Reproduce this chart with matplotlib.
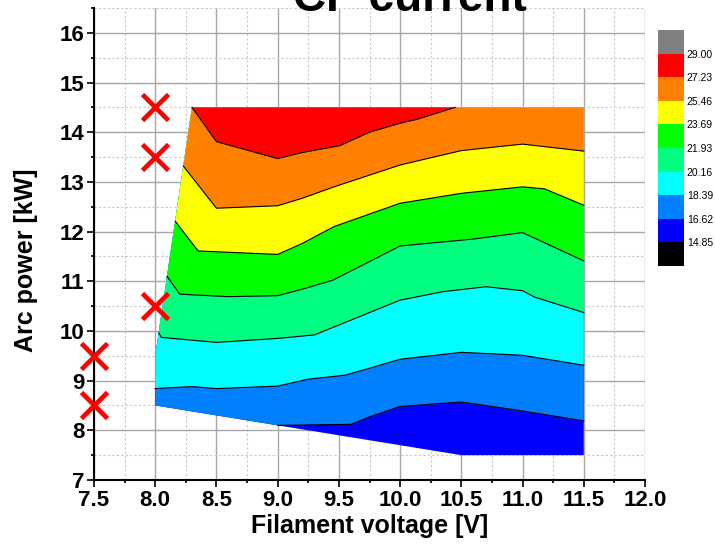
import matplotlib
matplotlib.use('Agg')
import matplotlib.pyplot as plt
from matplotlib.patches import Polygon
from matplotlib.ticker import MultipleLocator

plt.rcParams['font.family'] = ['Liberation Sans', 'DejaVu Sans']

# ---------------- data ----------------
title = 'CP current'
xlabel = 'Filament voltage [V]'
ylabel = 'Arc power [kW]'

levels = [14.85, 16.62, 18.39, 20.16, 21.93, 23.69, 25.46, 27.23, 29.00]
level_labels = ['14.85', '16.62', '18.39', '20.16', '21.93', '23.69', '25.46', '27.23', '29.00']
band_colors = ['#000000', '#0000FF', '#0080FF', '#00FFFF', '#00FF80',
               '#00FF00', '#FFFF00', '#FF8000', '#FF0000', '#808080']

# measured domain outline (filament voltage, arc power)
domain_x = [8.0, 10.5, 11.5, 11.5, 8.3, 8.0]
domain_y = [8.5, 7.5, 7.5, 14.5, 14.5, 9.5]

# contour boundaries
c1662_x = [9.0, 9.6, 9.75, 10.0, 10.5, 11.0, 11.5]
c1662_y = [8.10, 8.12, 8.27, 8.48, 8.57, 8.39, 8.19]

c1839_x = [8.0, 8.3, 8.5, 9.0, 9.25, 9.55, 9.75, 10.0, 10.5, 11.0, 11.5]
c1839_y = [8.84, 8.88, 8.84, 8.89, 9.03, 9.11, 9.25, 9.43, 9.57, 9.51, 9.31]

c2016_x = [8.03, 8.05, 8.5, 9.0, 9.3, 9.75, 10.0, 10.35, 10.7, 11.0, 11.1, 11.5]
c2016_y = [9.96, 9.87, 9.77, 9.85, 9.92, 10.37, 10.62, 10.79, 10.89, 10.81, 10.68, 10.37]

c2193_x = [8.096, 8.2, 8.6, 9.0, 9.2, 9.45, 10.0, 10.6, 11.0, 11.5]
c2193_y = [11.1, 10.74, 10.69, 10.71, 10.84, 11.02, 11.71, 11.85, 11.98, 11.41]

c2369_x = [8.163, 8.35, 9.0, 9.2, 9.46, 10.0, 10.5, 11.0, 11.18, 11.5]
c2369_y = [12.21, 11.61, 11.54, 11.76, 12.10, 12.57, 12.77, 12.90, 12.86, 12.53]

c2546_x = [8.229, 8.5, 9.0, 9.2, 9.46, 10.0, 10.5, 11.0, 11.5]
c2546_y = [13.32, 12.47, 12.52, 12.67, 12.90, 13.34, 13.63, 13.76, 13.62]

c2723_x = [8.3, 8.5, 9.0, 9.2, 9.51, 9.75, 10.0, 10.14, 10.45]
c2723_y = [14.5, 13.81, 13.47, 13.59, 13.73, 14.0, 14.18, 14.26, 14.5]

contour_lines = [
    (1, c1662_x, c1662_y),
    (2, c1839_x, c1839_y),
    (3, c2016_x, c2016_y),
    (4, c2193_x, c2193_y),
    (5, c2369_x, c2369_y),
    (6, c2546_x, c2546_y),
    (7, c2723_x, c2723_y),
]

marker_x = [8.0, 8.0, 8.0, 7.5, 7.5]
marker_y = [14.5, 13.5, 10.5, 9.5, 8.5]

# ---------------- figure ----------------
W, H = 715, 549
fig = plt.figure(figsize=(W / 100, H / 100), dpi=100)
ax = fig.add_axes([94 / W, 69 / H, 551 / W, 472 / H])

ax.set_xlim(7.5, 12.0)
ax.set_ylim(7, 16.5)

ax.xaxis.set_major_locator(MultipleLocator(0.5))
ax.xaxis.set_minor_locator(MultipleLocator(0.25))
ax.yaxis.set_major_locator(MultipleLocator(1))
ax.yaxis.set_minor_locator(MultipleLocator(0.5))
ax.set_axisbelow(True)
ax.grid(which='major', color='#a8a8a8', lw=1.0, ls='-')
ax.grid(which='minor', color='#c8c8c8', lw=0.8, ls=(0, (2, 2)))

for s in ['top', 'right']:
    ax.spines[s].set_visible(False)
for s in ['left', 'bottom']:
    ax.spines[s].set_linewidth(1.5)

ax.tick_params(which='major', direction='out', length=5, width=1.2,
               labelsize=16, pad=2)
ax.tick_params(which='minor', direction='out', length=2.5, width=1.2)
ax.set_xticklabels([f'{v:.1f}' for v in ax.get_xticks()], fontweight='bold')
ax.set_yticklabels([f'{int(v)}' for v in ax.get_yticks()], fontweight='bold')
ax.set_xlim(7.5, 12.0)
ax.set_ylim(7, 16.5)

ax.set_xlabel(xlabel, fontsize=18, fontweight='bold', labelpad=2)
ax.set_ylabel(ylabel, fontsize=18, fontweight='bold', va='center')
ax.yaxis.set_label_coords(-0.123, 0.466)

# domain + bands
dom = Polygon(list(zip(domain_x, domain_y)), closed=True,
              facecolor=band_colors[1], edgecolor='none', zorder=1)
ax.add_patch(dom)
clip = Polygon(list(zip(domain_x, domain_y)), closed=True,
               transform=ax.transData, facecolor='none', edgecolor='none')

for idx, xs, ys in contour_lines:
    px = list(xs) + [12.0, 7.5, 7.5]
    py = list(ys) + [17.0, 17.0, ys[0]]
    p = Polygon(list(zip(px, py)), closed=True, facecolor=band_colors[idx + 1],
                edgecolor='none', zorder=1 + idx * 0.01)
    ax.add_patch(p)
    p.set_clip_path(clip)

for idx, xs, ys in contour_lines:
    ax.plot(xs, ys, color='black', lw=0.8, zorder=2)

ax.plot(marker_x, marker_y, ls='none', marker='x', color='red',
        markersize=19, markeredgewidth=3.4, zorder=5, clip_on=False)

# title (partly cut off at the top, as in the original)
fig.text(410 / W, 1 - 11 / H, title, ha='center', va='baseline',
         fontsize=33, fontweight='bold')

# colour scale
cax = fig.add_axes([658 / W, (H - 266) / H, 26 / W, 236 / H])
for i, c in enumerate(band_colors):
    cax.bar(0, 1, bottom=i, width=1, color=c, edgecolor='none')
cax.set_xlim(-0.5, 0.5)
cax.set_ylim(0, len(band_colors))
cax.set_xticks([])
cax.yaxis.tick_right()
cax.set_yticks(range(1, len(levels) + 1))
cax.set_yticklabels(level_labels)
cax.tick_params(axis='y', length=0, labelsize=7.5, pad=2)
for s in cax.spines.values():
    s.set_visible(False)

fig.savefig('out.png', dpi=100)
